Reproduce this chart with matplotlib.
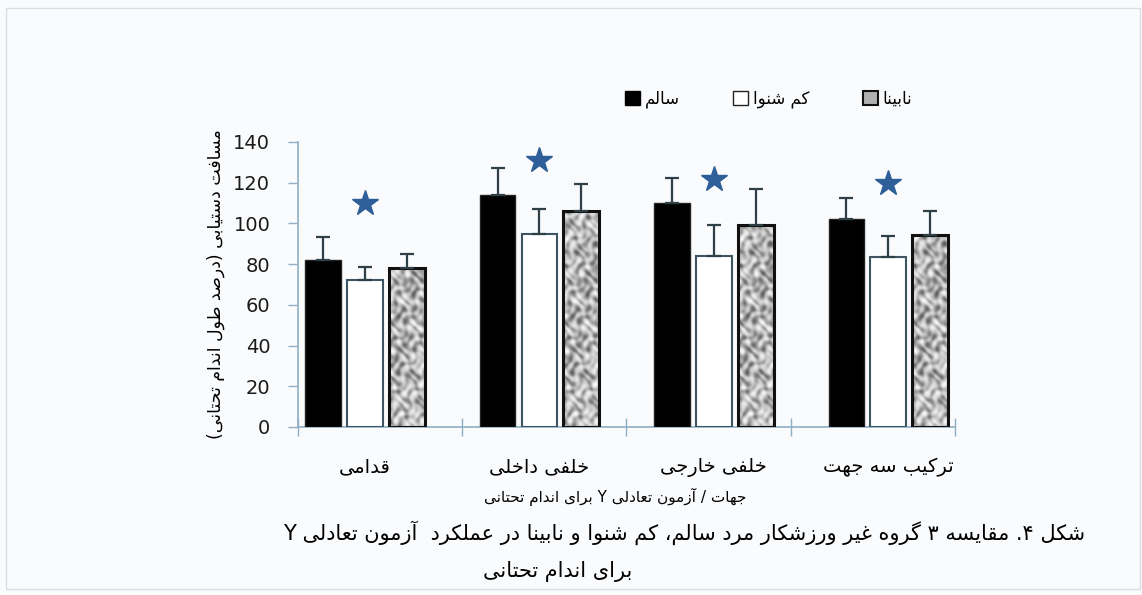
import numpy as np
import matplotlib
matplotlib.use("Agg")
import matplotlib.pyplot as plt
from matplotlib import font_manager
from matplotlib.ft2font import FT2Font
from matplotlib.patches import Patch, Rectangle

plt.rcParams['font.family'] = ['DejaVu Sans']

# ---- data ----
categories = ["قدامی", "خلفی داخلی", "خلفی خارجی", "ترکیب سه جهت"]
groups = ["سالم", "کم شنوا", "نابینا"]
healthy = [82, 114, 110, 102]
healthy_sd = [11.5, 13, 12.5, 10.5]
deaf = [72, 95, 84, 83.5]
deaf_sd = [6.5, 12, 15, 10.5]
blind = [78, 106, 99, 94.5]
blind_sd = [7, 13.5, 18, 11.5]
star_y = [110, 131, 122, 120]
yticks = [0, 20, 40, 60, 80, 100, 120, 140]

y_label = "مسافت دستیابی (درصد طول اندام تحتانی)"
x_label = "جهات / آزمون تعادلی Y برای اندام تحتانی"
caption1 = "شکل ۴. مقایسه ۳ گروه غیر ورزشکار مرد سالم، کم شنوا و نابینا در عملکرد  آزمون تعادلی Y"
caption2 = "برای اندام تحتانی"

# ---- minimal Persian shaping with presentation forms ----
# letter: (isolated, final, initial, medial); initial None => joins only to the right
FORMS = {
    'ا': ('\uFE8D', '\uFE8E', None, None), 'آ': ('\u0622', '\uFE82', None, None),
    'ب': ('\uFE8F', '\uFE90', '\uFE91', '\uFE92'), 'پ': ('\uFB56', '\uFB57', '\uFB58', '\uFB59'),
    'ت': ('\uFE95', '\uFE96', '\uFE97', '\uFE98'), 'ث': ('\uFE99', '\uFE9A', '\uFE9B', '\uFE9C'),
    'ج': ('\uFE9D', '\uFE9E', '\uFE9F', '\uFEA0'), 'چ': ('\uFB7A', '\uFB7B', '\uFB7C', '\uFB7D'),
    'ح': ('\uFEA1', '\uFEA2', '\uFEA3', '\uFEA4'), 'خ': ('\uFEA5', '\uFEA6', '\uFEA7', '\uFEA8'),
    'د': ('\uFEA9', '\uFEAA', None, None), 'ذ': ('\uFEAB', '\uFEAC', None, None),
    'ر': ('\uFEAD', '\uFEAE', None, None), 'ز': ('\uFEAF', '\uFEB0', None, None),
    'ژ': ('\uFB8A', '\uFB8B', None, None),
    'س': ('\uFEB1', '\uFEB2', '\uFEB3', '\uFEB4'), 'ش': ('\uFEB5', '\uFEB6', '\uFEB7', '\uFEB8'),
    'ص': ('\uFEB9', '\uFEBA', '\uFEBB', '\uFEBC'), 'ض': ('\uFEBD', '\uFEBE', '\uFEBF', '\uFEC0'),
    'ط': ('\uFEC1', '\uFEC2', '\uFEC3', '\uFEC4'), 'ظ': ('\uFEC5', '\uFEC6', '\uFEC7', '\uFEC8'),
    'ع': ('\uFEC9', '\uFECA', '\uFECB', '\uFECC'), 'غ': ('\uFECD', '\uFECE', '\uFECF', '\uFED0'),
    'ف': ('\uFED1', '\uFED2', '\uFED3', '\uFED4'), 'ق': ('\uFED5', '\uFED6', '\uFED7', '\uFED8'),
    'ک': ('\uFB8E', '\uFB8F', '\uFB90', '\uFB91'), 'گ': ('\uFB92', '\uFB93', '\uFB94', '\uFB95'),
    'ل': ('\uFEDD', '\uFEDE', '\uFEDF', '\uFEE0'), 'م': ('\uFEE1', '\uFEE2', '\uFEE3', '\uFEE4'),
    'ن': ('\uFEE5', '\uFEE6', '\uFEE7', '\uFEE8'), 'و': ('\uFEED', '\uFEEE', None, None),
    'ه': ('\uFEE9', '\uFEEA', '\uFEEB', '\uFEEC'), 'ی': ('\uFEEF', '\uFEF0', '\uFEF3', '\uFEF4'),
}
# Arabic-kaf forms stand in for keheh if the font lacks them
ALT = {'\uFB8E': '\uFED9', '\uFB8F': '\uFEDA', '\uFB90': '\uFEDB', '\uFB91': '\uFEDC'}
MIRROR = {'(': ')', ')': '('}

cmap = FT2Font(font_manager.findfont('DejaVu Sans')).get_charmap()


def glyph(form, base):
    if ord(form) in cmap:
        return form
    if form in ALT and ord(ALT[form]) in cmap:
        return ALT[form]
    return base


def shape_word(w):
    out = []
    for i, c in enumerate(w):
        if c not in FORMS:
            out.append(MIRROR.get(c, c))
            continue
        iso, fin, ini, med = FORMS[c]
        prev = i > 0 and w[i - 1] in FORMS and FORMS[w[i - 1]][2] is not None
        nxt = i + 1 < len(w) and w[i + 1] in FORMS and ini is not None
        f = med if prev and nxt else fin if prev else ini if nxt else iso
        out.append(glyph(f, c))
    if not all(ch.isascii() for ch in w):
        out = out[::-1]
    return ''.join(out)


def fa(s):
    # right-to-left line: shape every word and reverse the word order
    return ' '.join(shape_word(w) for w in s.split(' ')[::-1])


# ---- figure ----
fig = plt.figure(figsize=(11.42, 5.95), dpi=100, facecolor='#fafbfd')
ax = fig.add_axes([0.261, 0.2824, 0.575, 0.479])
ax.set_facecolor('none')

x = np.arange(len(categories))
w = 0.205
off = 0.24
axis_col = '#8fb0c4'
err_col = '#2e3f48'

b1 = ax.bar(x - off, healthy, w, color='black', edgecolor='#222222', lw=1, zorder=3)
b2 = ax.bar(x, deaf, w, color='white', edgecolor='#3d5560', lw=1.5, zorder=3)
b3 = ax.bar(x + off, blind, w, facecolor='none', edgecolor='#111111', lw=2.2, zorder=4)

# mottled stone fill for the third group, built in pixel-sized units
for rect in b3:
    x0, h = rect.get_x(), rect.get_height()
    u, v = np.meshgrid(np.linspace(0, 36, 72), np.linspace(0, h * 2.04, int(h * 4)))
    tex = (np.sin(u / 2.6 + 1.6 * np.sin(v / 4.0)) * np.cos(v / 3.0 + 1.6 * np.sin(u / 3.4 + v / 9))
           + 0.35 * np.sin((u - 0.7 * v) / 2.1) + 0.25 * np.cos((0.8 * u + v) / 1.8))
    im = ax.imshow(tex, cmap='Greys_r', vmin=-2.9, vmax=1.8, aspect='auto', interpolation='bilinear',
                   extent=(x0, x0 + rect.get_width(), 0, h), origin='lower', zorder=2)
    im.set_clip_path(rect)

ekw = dict(fmt='none', ecolor=err_col, elinewidth=1.6, capsize=5, capthick=1.6, zorder=5)
ax.errorbar(x - off, healthy, yerr=[np.zeros(4), healthy_sd], **ekw)
ax.errorbar(x, deaf, yerr=[np.zeros(4), deaf_sd], **ekw)
ax.errorbar(x + off, blind, yerr=[np.zeros(4), blind_sd], **ekw)

ax.plot(x, star_y, ls='none', marker='*', ms=19, color='#2f5f98', zorder=6)

left, right = -0.384, 3.381
ax.set_xlim(left, right)
ax.set_ylim(0, 140)
ax.set_yticks(yticks)
ax.set_yticklabels([str(t) for t in yticks], fontsize=14, color='#1a1a1a')
ax.set_xticks(x)
ax.set_xticklabels([fa(c) for c in categories], fontsize=14)
ax.set_xticks(np.linspace(left, right, 5), minor=True)
ax.tick_params(axis='x', which='major', length=0, pad=22)
ax.tick_params(axis='x', which='minor', direction='inout', length=13, color=axis_col, width=1)
ax.tick_params(axis='y', direction='out', length=7, color=axis_col, width=1, pad=13)
for s in ['top', 'right']:
    ax.spines[s].set_visible(False)
for s in ['left', 'bottom']:
    ax.spines[s].set_color(axis_col)
    ax.spines[s].set_linewidth(1.2)

ax.set_ylabel(fa(y_label), fontsize=12.5, labelpad=6)

handles = [Patch(facecolor='black', edgecolor='black'),
           Patch(facecolor='white', edgecolor='#222222'),
           Patch(facecolor='#b0b0b0', edgecolor='#111111', lw=1.5)]
fig.legend(handles, [fa(g) for g in groups], loc='center', bbox_to_anchor=(0.673, 0.834),
           ncol=3, frameon=False, fontsize=12, handlelength=0.9, handleheight=0.9,
           handletextpad=0.3, columnspacing=3.2)

fig.text(0.539, 0.165, fa(x_label), ha='center', va='center', fontsize=11)
fig.text(0.599, 0.104, fa(caption1), ha='center', va='center', fontsize=15)
fig.text(0.488, 0.039, fa(caption2), ha='center', va='center', fontsize=15)

fig.patches.append(Rectangle((6 / 1142, 1 - 589 / 595), 1134 / 1142, 581 / 595,
                             transform=fig.transFigure, fill=False, edgecolor='#dddddd', lw=1))

fig.savefig('out.png', dpi=100, facecolor=fig.get_facecolor())
